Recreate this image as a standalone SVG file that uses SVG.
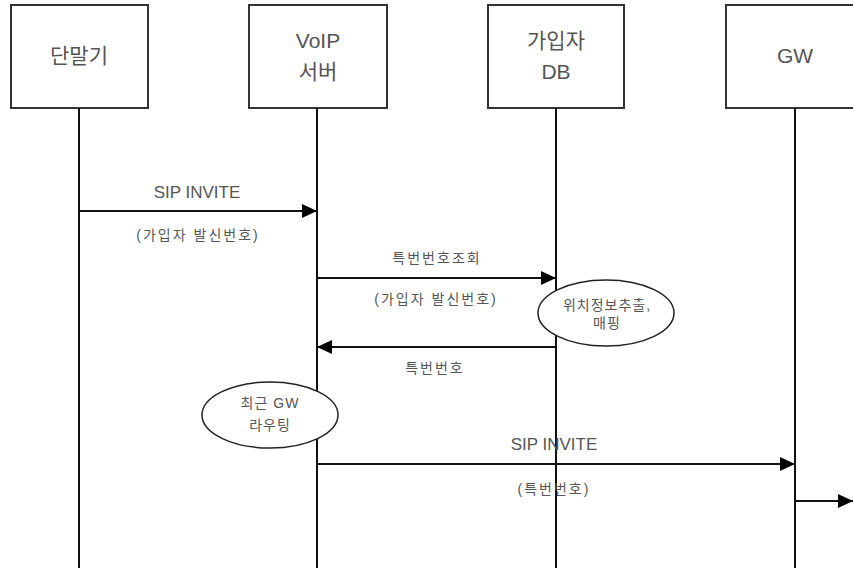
<svg xmlns="http://www.w3.org/2000/svg" width="853" height="568" viewBox="0 0 853 568">
<style>
.box{fill:#fff;stroke:#333;stroke-width:2}
.life{stroke:#111;stroke-width:2;fill:none}
.msg{stroke:#111;stroke-width:2;fill:none}
.ell{fill:#fff;stroke:#222;stroke-width:1.5}
text{font-family:"Liberation Sans","Noto Sans CJK KR",sans-serif;fill:#555;text-anchor:middle}
.nl{font-size:21px}
.ml{font-size:17px}
.kl{font-size:14px;letter-spacing:2px}
.el{font-size:14px;letter-spacing:1px}
</style>
<defs>
<marker id="ah" markerWidth="15" markerHeight="14" refX="15" refY="7" orient="auto" markerUnits="userSpaceOnUse">
<path d="M0,0 L15,7 L0,14 Z" fill="#000"/>
</marker>
</defs>
<rect width="853" height="568" fill="#fff"/>
<g id="terminal">
<rect class="box" x="11" y="5" width="137" height="103"/>
<line class="life" x1="79" y1="108" x2="79" y2="568"/>
<text class="nl" x="79" y="63">단말기</text>
</g>
<g id="voip">
<rect class="box" x="249" y="5" width="138" height="103"/>
<line class="life" x1="317" y1="108" x2="317" y2="568"/>
<text class="nl" x="318" y="48">VoIP</text>
<text class="nl" x="318" y="79">서버</text>
</g>
<g id="subdb">
<rect class="box" x="488" y="5" width="136" height="103"/>
<line class="life" x1="556" y1="108" x2="556" y2="568"/>
<text class="nl" x="556" y="48">가입자</text>
<text class="nl" x="556" y="79">DB</text>
</g>
<g id="gw">
<rect class="box" x="726" y="5" width="140" height="103"/>
<line class="life" x1="795" y1="108" x2="795" y2="568"/>
<text class="nl" x="795" y="63">GW</text>
</g>
<g id="loc">
<ellipse class="ell" cx="606" cy="313" rx="68" ry="33"/>
<text class="el" x="607" y="310">위치정보추출,</text>
<text class="el" x="607" y="328">매핑</text>
</g>
<g id="route">
<ellipse class="ell" cx="270" cy="415" rx="68" ry="33"/>
<text class="el" x="270" y="408">최근 GW</text>
<text class="el" x="270" y="430">라우팅</text>
</g>
<g id="connectors">
<line class="msg" x1="79" y1="211" x2="317" y2="211" marker-end="url(#ah)"/>
<text class="ml" x="197" y="198">SIP INVITE</text>
<text class="kl" x="198" y="240">(가입자 발신번호)</text>
<line class="msg" x1="317" y1="278" x2="556" y2="278" marker-end="url(#ah)"/>
<text class="kl" x="437" y="263">특번번호조회</text>
<text class="kl" x="436" y="304">(가입자 발신번호)</text>
<line class="msg" x1="556" y1="347" x2="317" y2="347" marker-end="url(#ah)"/>
<text class="kl" x="435" y="373">특번번호</text>
<line class="msg" x1="317" y1="464" x2="795" y2="464" marker-end="url(#ah)"/>
<text class="ml" x="554" y="450">SIP INVITE</text>
<text class="kl" x="554" y="494">(특번번호)</text>
<line class="msg" x1="795" y1="501" x2="853" y2="501" marker-end="url(#ah)"/>
</g>
</svg>
